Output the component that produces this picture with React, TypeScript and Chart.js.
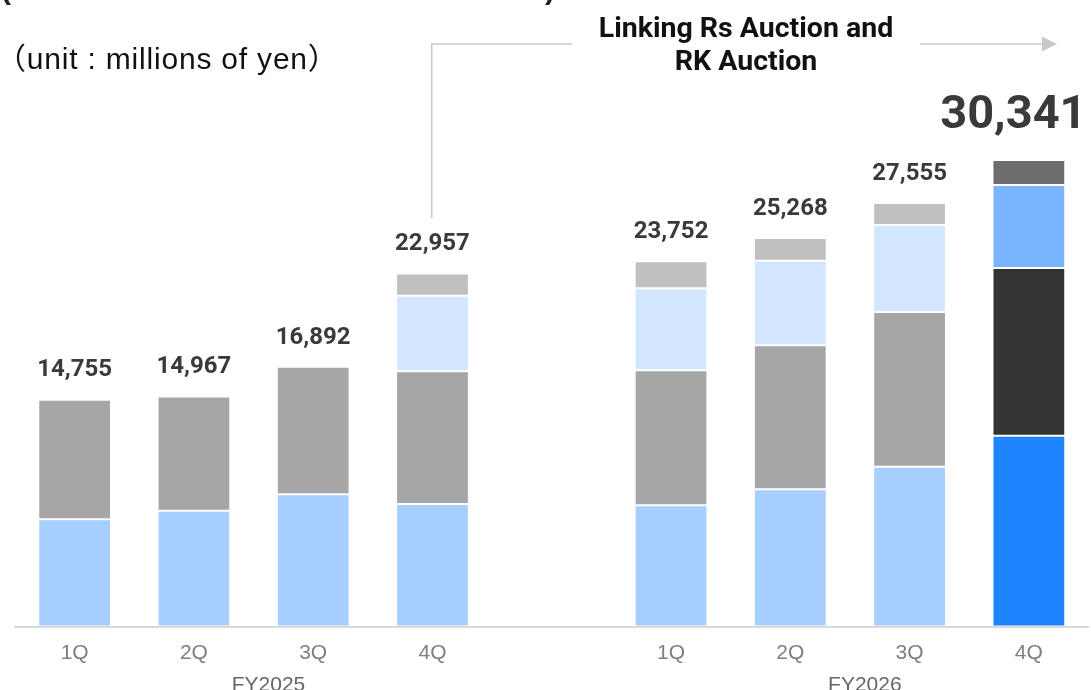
import React, { useEffect, useRef } from "react";
import { Chart, registerables } from "chart.js";

Chart.register(...registerables);

// ---- data ----
const categories = ["1Q", "2Q", "3Q", "4Q", "", "1Q", "2Q", "3Q", "4Q"];
const fiscalYears = ["FY2025", "FY2026"];
const segBase = [6973, 7533, 8600, 7969, null, 7884, 8925, 10395, 12412];
const segGray = [7782, 7434, 8292, 8632, null, 8782, 9367, 10063, 10909];
const segPale = [null, null, null, 4918, null, 5334, 5503, 5659, 5399];
const segTop = [null, null, null, 1438, null, 1752, 1473, 1438, 1621];
const totals = [14755, 14967, 16892, 22957, null, 23752, 25268, 27555, 30341];
const annotationLines = ["Linking Rs Auction and", "RK Auction"];
const unitLabel = "（unit : millions of yen）";

const baseColors = ["#A6CEFF", "#A6A6A6", "#D3E6FF", "#C0C0C0"];
const lastColors = ["#1F85FF", "#333333", "#78B4FF", "#6D6D6D"];

const colorArr = (k: number) =>
  categories.map((_, i) => (i === categories.length - 1 ? lastColors[k] : baseColors[k]));
const borderArr = () =>
  categories.map((_, i) => (i === categories.length - 1 ? "rgba(0,0,0,0)" : "rgba(255,255,255,0.55)"));

const fmt = (v: number) => v.toLocaleString("en-US");

const overlayPlugin = {
  id: "overlay",
  afterDatasetsDraw(chart: any) {
    const { ctx } = chart;
    const xs = chart.scales.x;
    const ys = chart.scales.y;
    ctx.save();
    totals.forEach((t, i) => {
      if (t == null) return;
      const x = xs.getPixelForValue(i);
      const yTop = ys.getPixelForValue(t);
      ctx.fillStyle = "#3a3a3a";
      ctx.textBaseline = "alphabetic";
      ctx.textAlign = "center";
      if (i === totals.length - 1) {
        ctx.font = "bold 47px Roboto";
        ctx.fillText(fmt(t), x - 15.5, yTop - 32);
      } else {
        ctx.font = "bold 24px Roboto";
        ctx.fillText(fmt(t), x, yTop - 23.3);
      }
    });
    ctx.restore();
  },
  afterDraw(chart: any) {
    const { ctx } = chart;
    const xs = chart.scales.x;
    const cat = xs.getPixelForValue(1) - xs.getPixelForValue(0);
    ctx.save();
    // fiscal-year group labels
    ctx.font = "21px 'Liberation Sans', Arial";
    ctx.fillStyle = "#666666";
    ctx.textAlign = "center";
    ctx.textBaseline = "middle";
    [1, 6].forEach((i, k) => {
      const cx = (xs.getPixelForValue(i) + xs.getPixelForValue(i + 1)) / 2 + cat / 8;
      ctx.fillText(fiscalYears[k], cx, 685);
    });

    // bracket + arrow
    ctx.strokeStyle = "#c8c8c8";
    ctx.lineWidth = 1.5;
    const xv = Math.round(xs.getPixelForValue(3)) - 0.25;
    ctx.beginPath();
    ctx.moveTo(xv, 218);
    ctx.lineTo(xv, 44);
    ctx.lineTo(572, 44);
    ctx.moveTo(920, 44);
    ctx.lineTo(1043, 44);
    ctx.stroke();
    ctx.fillStyle = "#c8c8c8";
    ctx.beginPath();
    ctx.moveTo(1042, 36.5);
    ctx.lineTo(1057, 44);
    ctx.lineTo(1042, 51.5);
    ctx.closePath();
    ctx.fill();

    // annotation text
    ctx.fillStyle = "#111111";
    ctx.font = "bold 28.5px Roboto";
    ctx.textAlign = "center";
    ctx.textBaseline = "alphabetic";
    ctx.fillText(annotationLines[0], 746, 37);
    ctx.fillText(annotationLines[1], 746, 69.5);

    // unit label
    ctx.font = "30px 'Liberation Sans', 'Noto Sans CJK JP'";
    ctx.textAlign = "left";
    ctx.fillStyle = "#111111";
    (ctx as any).letterSpacing = "0.8px";
    ctx.fillText(unitLabel, -4, 69);
    (ctx as any).letterSpacing = "0px";

    // remnants of a title cut off above
    ctx.font = "bold 30px 'Liberation Sans'";
    ctx.fillStyle = "#222222";
    ctx.fillText("(", 1, -1);
    ctx.fillText(")", 545, -1);
    ctx.restore();
  },
};

export default function App() {
  const ref = useRef<HTMLCanvasElement | null>(null);
  useEffect(() => {
    document.body.style.margin = "0";
    if (!ref.current) return;
    const mk = (data: (number | null)[], k: number) => ({
      data,
      backgroundColor: colorArr(k),
      borderColor: borderArr(),
      borderWidth: 1,
      borderSkipped: false,
      barPercentage: 0.61,
      categoryPercentage: 1,
    });
    const chart = new Chart(ref.current, {
      type: "bar",
      data: {
        labels: categories,
        datasets: [mk(segBase, 0), mk(segGray, 1), mk(segPale, 2), mk(segTop, 3)] as any,
      },
      options: {
        animation: false,
        responsive: false,
        devicePixelRatio: 1,
        layout: { padding: { top: 42.3, left: 15, right: 2.5, bottom: 0 } },
        plugins: { legend: { display: false }, tooltip: { enabled: false }, title: { display: false } },
        scales: {
          x: {
            stacked: true,
            grid: { display: false, drawTicks: false },
            border: { display: true, color: "#d9d9d9", width: 2 },
            ticks: {
              color: "#7f7f7f",
              font: { family: "'Liberation Sans', Arial", size: 21 },
              padding: 14,
              maxRotation: 0,
              autoSkip: false,
            },
            afterFit: (s: any) => {
              s.height = 63.5;
            },
          },
          y: { stacked: true, display: false, min: 0, max: 38000 },
        },
      },
      plugins: [overlayPlugin],
    });
    return () => chart.destroy();
  }, []);
  return (
    <div style={{ width: 1091, height: 690, background: "#fff" }}>
      <canvas ref={ref} width={1091} height={690} style={{ display: "block" }} />
    </div>
  );
}
